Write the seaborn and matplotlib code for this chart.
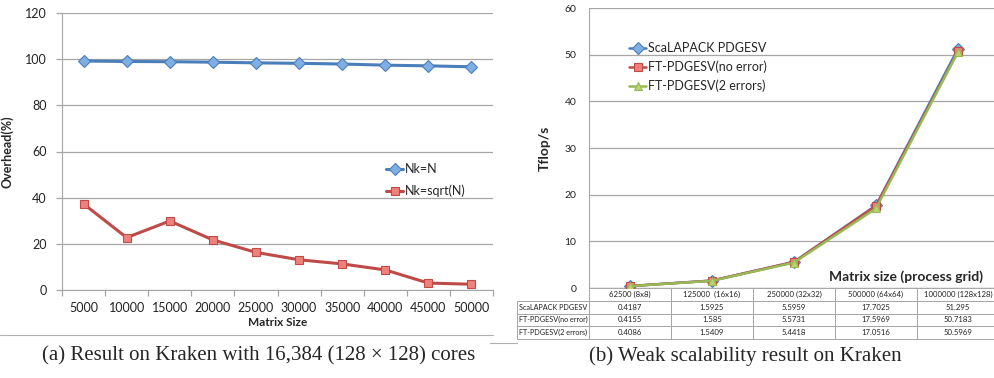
import numpy as np
import pandas as pd
import matplotlib
matplotlib.use("Agg")
import matplotlib.pyplot as plt
from matplotlib.lines import Line2D
import seaborn as sns

# (a) overhead vs matrix size
sizes = [5000, 10000, 15000, 20000, 25000, 30000, 35000, 40000, 45000, 50000]
nk_n = [99.2, 99.0, 98.9, 98.7, 98.4, 98.2, 97.9, 97.4, 97.1, 96.7]
nk_sqrt = [37.3, 22.7, 29.9, 21.7, 16.3, 13.1, 11.3, 8.7, 3.0, 2.5]

# (b) weak scalability
grids = ["62500 (8x8)", "125000  (16x16)", "250000 (32x32)", "500000 (64x64)", "1000000 (128x128)"]
scalapack = [0.4187, 1.5925, 5.5959, 17.7025, 51.295]
ft_noerr = [0.4155, 1.585, 5.5731, 17.5969, 50.7183]
ft_2err = [0.4086, 1.5409, 5.4418, 17.0516, 50.5969]
series_b = ["ScaLAPACK PDGESV", "FT-PDGESV(no error)", "FT-PDGESV(2 errors)"]

sns.set_style("white")
plt.rcParams["font.family"] = ["Lato", "DejaVu Sans"]

W, H = 995, 378
fig = plt.figure(figsize=(W / 100, H / 100), dpi=100)

def box(x0, y0, x1, y1):
    return [x0 / W, (H - y1) / H, (x1 - x0) / W, (y1 - y0) / H]

grid_c = "#A6A6A6"
txt_c = "#222222"
blue, blue_f = "#4A7EBB", "#7FAEE3"
red, red_f = "#BE4B48", "#F0807C"
green, green_f = "#98B954", "#B8D46E"

# ---------- left panel ----------
ax1 = fig.add_axes(box(62, 13, 493, 290))
pos = np.arange(len(sizes))
sns.lineplot(x=pos, y=nk_n, ax=ax1, color=blue, lw=2.2, marker="D", ms=6,
             mfc=blue_f, mec=blue, mew=0.8, label="Nk=N")
sns.lineplot(x=pos, y=nk_sqrt, ax=ax1, color=red, lw=2.2, marker="s", ms=6,
             mfc=red_f, mec=red, mew=0.8, label="Nk=sqrt(N)")
ax1.set_xlim(-0.5, len(sizes) - 0.5)
ax1.set_ylim(0, 120)
ax1.set_yticks(range(0, 121, 20))
ax1.set_xticks(pos)
ax1.set_xticklabels([str(s) for s in sizes])
ax1.set_xticks(np.arange(-0.5, len(sizes)), minor=True)
ax1.tick_params(axis="x", which="major", bottom=False, length=0, pad=9, labelsize=9, colors=txt_c)
ax1.tick_params(axis="x", which="minor", bottom=True, length=4, width=0.9, color=grid_c, direction="out")
ax1.tick_params(axis="y", left=True, length=4, width=0.9, color=grid_c, direction="out",
                pad=7, labelsize=9, labelcolor=txt_c)
ax1.grid(axis="y", color=grid_c, lw=0.9)
ax1.set_axisbelow(True)
for s in ["top", "right"]:
    ax1.spines[s].set_visible(False)
for s in ["left", "bottom"]:
    ax1.spines[s].set_color(grid_c)
ax1.set_xlabel("Matrix Size", fontsize=8.5, fontweight="bold", labelpad=2)
ax1.set_ylabel("Overhead(%)", fontsize=9, fontweight="bold", labelpad=8)
ax1.legend(loc="upper left", bbox_to_anchor=(0.74, 0.475), frameon=False, fontsize=9,
           handlelength=1.4, handletextpad=0.1, labelspacing=0.75, borderaxespad=0)

# ---------- right panel ----------
ax2 = fig.add_axes(box(589, 8, 999, 288))
pos2 = np.arange(len(grids))
specs = [(scalapack, blue, blue_f, "D"), (ft_noerr, red, red_f, "s"), (ft_2err, green, green_f, "^")]
for name, (vals, c, fc, m) in zip(series_b, specs):
    sns.lineplot(x=pos2, y=vals, ax=ax2, color=c, lw=1.8, marker=m, ms=6,
                 mfc=fc, mec=c, mew=0.8, label=name)
ax2.set_xlim(-0.5, len(grids) - 0.5)
ax2.set_ylim(0, 60)
ax2.set_yticks(range(0, 61, 10))
ax2.set_xticks([])
ax2.tick_params(axis="y", length=0, pad=9, labelsize=7.5, labelcolor=txt_c)
ax2.grid(axis="y", color=grid_c, lw=0.9)
ax2.set_axisbelow(True)
for s in ["top", "right", "bottom"]:
    ax2.spines[s].set_visible(False)
ax2.spines["left"].set_color(grid_c)
ax2.axhline(0, color=grid_c, lw=0.9)
ax2.set_ylabel("Tflop/s", fontsize=10, fontweight="bold", labelpad=10)
ax2.legend(loc="upper left", bbox_to_anchor=(0.085, 0.895), frameon=False, fontsize=9,
           handlelength=1.4, handletextpad=0.1, labelspacing=0.5, borderaxespad=0)
ax2.text((983 - 589) / 410, (288 - 277) / 280, "Matrix size (process grid)",
         transform=ax2.transAxes, ha="right", va="center", fontsize=10, fontweight="bold")

# data table under right panel (row labels as first column)
cells = [[name] + [str(v) for v in row]
         for name, row in zip(series_b, (scalapack, ft_noerr, ft_2err))]
tab = ax2.table(cellText=cells, colLabels=[""] + grids, cellLoc="center",
                colWidths=[72] + [82] * len(grids),
                bbox=[(517 - 589) / 410, -(339 - 288) / 280, (999 - 517) / 410, (339 - 288) / 280])
tab.auto_set_font_size(False)
tab.set_fontsize(5.6)
for (r, c), cell in tab.get_celld().items():
    cell.set_edgecolor(grid_c)
    cell.set_linewidth(0.7)
    cell.set_facecolor("none")
    cell.get_text().set_color(txt_c)
    if c == 0:
        cell._loc = "left"
        cell.get_text().set_ha("left")
        cell.get_text().set_fontsize(5.2)
        cell.PAD = 0.03
        if r == 0:
            cell.visible_edges = ""

# frame lines and captions
fig.add_artist(Line2D([0, 493 / W], [1 - 335 / H] * 2, color="#B0B0B0", lw=0.8))
fig.add_artist(Line2D([490 / W, 517 / W], [1 - 343 / H] * 2, color="#B0B0B0", lw=0.8))
fig.text(259 / W, 1 - 356 / H, "(a) Result on Kraken with 16,384 (128 \u00d7 128) cores",
         ha="center", va="center", fontsize=15, family=["Liberation Serif", "DejaVu Serif"])
fig.text(745 / W, 1 - 356 / H, "(b) Weak scalability result on Kraken",
         ha="center", va="center", fontsize=15, family=["Liberation Serif", "DejaVu Serif"])

fig.savefig("out.png", dpi=100)
